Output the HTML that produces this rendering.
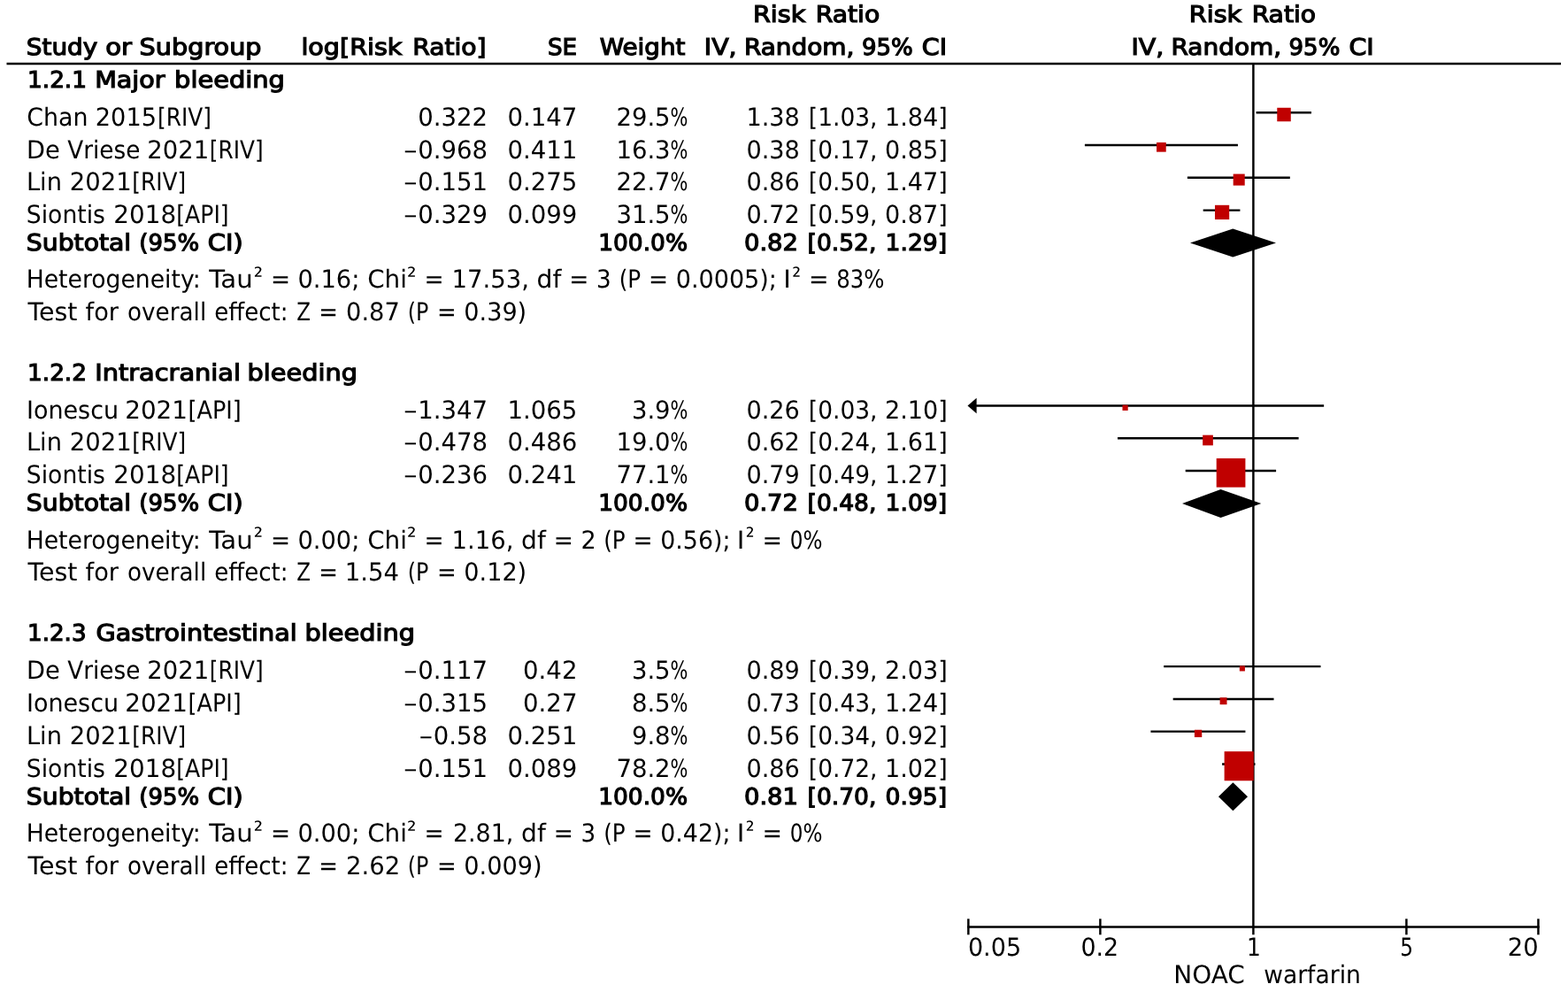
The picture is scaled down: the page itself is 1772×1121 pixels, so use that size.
<!DOCTYPE html>
<html lang="en"><head><meta charset="utf-8"><title>Forest plot</title>
<style>html,body{margin:0;padding:0;background:#fff;overflow:hidden}svg{display:block}text{font-family:"DejaVu Sans","Liberation Sans",sans-serif;font-size:28.0px;fill:#000;white-space:pre;text-rendering:geometricPrecision}.b{font-size:25.85px;stroke:#000;stroke-width:1.2}.ln line{stroke:#000;stroke-width:2.45}.sq rect{fill:#c00000}</style></head><body>
<svg width="1772" height="1121" viewBox="0 0 1772 1121">
<rect width="1772" height="1121" fill="#fff"/>
<g class="ln">
<line x1="1419.58" y1="127.20" x2="1481.95" y2="127.20"/>
<line x1="1225.91" y1="164.00" x2="1398.93" y2="164.00"/>
<line x1="1341.89" y1="200.80" x2="1457.82" y2="200.80"/>
<line x1="1359.68" y1="237.60" x2="1401.43" y2="237.60"/>
<line x1="1100.00" y1="458.50" x2="1496.16" y2="458.50"/>
<line x1="1262.98" y1="495.20" x2="1467.60" y2="495.20"/>
<line x1="1339.71" y1="532.00" x2="1442.09" y2="532.00"/>
<line x1="1315.18" y1="753.10" x2="1492.51" y2="753.10"/>
<line x1="1325.67" y1="789.90" x2="1439.52" y2="789.90"/>
<line x1="1300.43" y1="826.60" x2="1407.44" y2="826.60"/>
<line x1="1381.09" y1="863.40" x2="1418.53" y2="863.40"/>
<line x1="7.5" y1="72" x2="1764" y2="72"/>
<line x1="1416.4" y1="72" x2="1416.4" y2="1056.3"/>
<line x1="1093.13" y1="1047.5" x2="1739.67" y2="1047.5"/>
<line x1="1094.36" y1="1038.3" x2="1094.36" y2="1056.3"/>
<line x1="1243.39" y1="1038.3" x2="1243.39" y2="1056.3"/>
<line x1="1589.41" y1="1038.3" x2="1589.41" y2="1056.3"/>
<line x1="1738.44" y1="1038.3" x2="1738.44" y2="1056.3"/>
</g>
<g class="sq">
<rect x="1443.28" y="121.76" width="15.48" height="15.48"/>
<rect x="1307.03" y="160.95" width="10.70" height="10.70"/>
<rect x="1393.68" y="196.59" width="13.02" height="13.02"/>
<rect x="1372.98" y="231.80" width="16.20" height="16.20"/>
<rect x="1268.48" y="457.69" width="6.21" height="6.21"/>
<rect x="1359.17" y="491.66" width="11.68" height="11.68"/>
<rect x="1374.70" y="517.94" width="32.71" height="32.71"/>
<rect x="1400.84" y="752.37" width="6.07" height="6.07"/>
<rect x="1378.63" y="788.26" width="7.88" height="7.88"/>
<rect x="1349.90" y="824.73" width="8.35" height="8.35"/>
<rect x="1383.63" y="849.15" width="33.11" height="33.11"/>
</g>
<g fill="#000">
<polygon points="1345.00,274.60 1393.30,258.60 1442.00,274.60 1393.30,290.60"/>
<polygon points="1093.5,458.50 1103.6,449.80 1103.6,467.20"/>
<polygon points="1336.00,569.10 1379.50,553.10 1425.30,569.10 1379.50,585.10"/>
<polygon points="1377.00,900.30 1393.40,884.30 1410.00,900.30 1393.40,916.30"/>
</g>
<text class="b"><tspan x="850.92" y="25" textLength="59.31" lengthAdjust="spacingAndGlyphs">Risk</tspan> <tspan x="921.75" y="25" textLength="72.44" lengthAdjust="spacingAndGlyphs">Ratio</tspan></text>
<text class="b"><tspan x="1343.82" y="25" textLength="59.31" lengthAdjust="spacingAndGlyphs">Risk</tspan> <tspan x="1414.65" y="25" textLength="72.44" lengthAdjust="spacingAndGlyphs">Ratio</tspan></text>
<text class="b"><tspan x="29.86" y="62" textLength="80.35" lengthAdjust="spacingAndGlyphs">Study</tspan> <tspan x="119.23" y="62" textLength="29.85" lengthAdjust="spacingAndGlyphs">or</tspan> <tspan x="157.56" y="62" textLength="138.02" lengthAdjust="spacingAndGlyphs">Subgroup</tspan></text>
<text class="b"><tspan x="340.42" y="62" textLength="114.01" lengthAdjust="spacingAndGlyphs">log[Risk</tspan> <tspan x="466.21" y="62" textLength="83.38" lengthAdjust="spacingAndGlyphs">Ratio]</tspan></text>
<text class="b"><tspan x="618.97" y="62" textLength="33.09" lengthAdjust="spacingAndGlyphs">SE</tspan></text>
<text class="b"><tspan x="677.73" y="62" textLength="96.64" lengthAdjust="spacingAndGlyphs">Weight</tspan></text>
<text class="b"><tspan x="795.84" y="62" textLength="36.83" lengthAdjust="spacingAndGlyphs">IV,</tspan> <tspan x="840.98" y="62" textLength="124.45" lengthAdjust="spacingAndGlyphs">Random,</tspan> <tspan x="973.98" y="62" textLength="57.77" lengthAdjust="spacingAndGlyphs">95%</tspan> <tspan x="1041.87" y="62" textLength="28.24" lengthAdjust="spacingAndGlyphs">CI</tspan></text>
<text class="b"><tspan x="1278.44" y="62" textLength="36.83" lengthAdjust="spacingAndGlyphs">IV,</tspan> <tspan x="1323.58" y="62" textLength="124.45" lengthAdjust="spacingAndGlyphs">Random,</tspan> <tspan x="1456.58" y="62" textLength="57.77" lengthAdjust="spacingAndGlyphs">95%</tspan> <tspan x="1524.47" y="62" textLength="28.24" lengthAdjust="spacingAndGlyphs">CI</tspan></text>
<text class="b"><tspan x="31.02" y="99" textLength="66.98" lengthAdjust="spacingAndGlyphs">1.2.1</tspan> <tspan x="107.17" y="99" textLength="79.42" lengthAdjust="spacingAndGlyphs">Major</tspan> <tspan x="197.09" y="99" textLength="124.84" lengthAdjust="spacingAndGlyphs">bleeding</tspan></text>
<text><tspan x="30.24" y="142" textLength="69.17" lengthAdjust="spacingAndGlyphs">Chan</tspan> <tspan x="107.80" y="142" textLength="69.20" lengthAdjust="spacingAndGlyphs">2015</tspan><tspan x="178.06" y="142" textLength="60.86" lengthAdjust="spacingAndGlyphs">[RIV]</tspan></text>
<text><tspan x="472.18" y="142" textLength="78.82" lengthAdjust="spacingAndGlyphs">0.322</tspan></text>
<text><tspan x="573.48" y="142" textLength="78.96" lengthAdjust="spacingAndGlyphs">0.147</tspan></text>
<text><tspan x="696.38" y="142" textLength="61.25" lengthAdjust="spacingAndGlyphs">29.5</tspan><tspan x="757.62" y="142" textLength="19.90" lengthAdjust="spacingAndGlyphs">%</tspan></text>
<text><tspan x="843.51" y="142" textLength="60.37" lengthAdjust="spacingAndGlyphs">1.38</tspan> <tspan x="913.83" y="142" textLength="77.68" lengthAdjust="spacingAndGlyphs">[1.03,</tspan> <tspan x="1000.01" y="142" textLength="70.79" lengthAdjust="spacingAndGlyphs">1.84]</tspan></text>
<text><tspan x="29.95" y="179" textLength="37.74" lengthAdjust="spacingAndGlyphs">De</tspan> <tspan x="76.25" y="179" textLength="82.14" lengthAdjust="spacingAndGlyphs">Vriese</tspan> <tspan x="166.28" y="179" textLength="69.92" lengthAdjust="spacingAndGlyphs">2021</tspan><tspan x="236.81" y="179" textLength="60.86" lengthAdjust="spacingAndGlyphs">[RIV]</tspan></text>
<text><tspan x="456.37" y="179" textLength="15.26" lengthAdjust="spacingAndGlyphs">–</tspan><tspan x="472.18" y="179" textLength="78.82" lengthAdjust="spacingAndGlyphs">0.968</tspan></text>
<text><tspan x="573.48" y="179" textLength="78.96" lengthAdjust="spacingAndGlyphs">0.411</tspan></text>
<text><tspan x="696.38" y="179" textLength="61.25" lengthAdjust="spacingAndGlyphs">16.3</tspan><tspan x="757.62" y="179" textLength="19.90" lengthAdjust="spacingAndGlyphs">%</tspan></text>
<text><tspan x="843.51" y="179" textLength="60.37" lengthAdjust="spacingAndGlyphs">0.38</tspan> <tspan x="913.83" y="179" textLength="77.68" lengthAdjust="spacingAndGlyphs">[0.17,</tspan> <tspan x="1000.01" y="179" textLength="70.79" lengthAdjust="spacingAndGlyphs">0.85]</tspan></text>
<text><tspan x="29.95" y="215" textLength="39.99" lengthAdjust="spacingAndGlyphs">Lin</tspan> <tspan x="78.78" y="215" textLength="69.92" lengthAdjust="spacingAndGlyphs">2021</tspan><tspan x="149.31" y="215" textLength="60.86" lengthAdjust="spacingAndGlyphs">[RIV]</tspan></text>
<text><tspan x="456.37" y="215" textLength="15.26" lengthAdjust="spacingAndGlyphs">–</tspan><tspan x="472.18" y="215" textLength="78.82" lengthAdjust="spacingAndGlyphs">0.151</tspan></text>
<text><tspan x="573.48" y="215" textLength="78.96" lengthAdjust="spacingAndGlyphs">0.275</tspan></text>
<text><tspan x="696.38" y="215" textLength="61.25" lengthAdjust="spacingAndGlyphs">22.7</tspan><tspan x="757.62" y="215" textLength="19.90" lengthAdjust="spacingAndGlyphs">%</tspan></text>
<text><tspan x="843.51" y="215" textLength="60.37" lengthAdjust="spacingAndGlyphs">0.86</tspan> <tspan x="913.83" y="215" textLength="77.68" lengthAdjust="spacingAndGlyphs">[0.50,</tspan> <tspan x="1000.01" y="215" textLength="70.79" lengthAdjust="spacingAndGlyphs">1.47]</tspan></text>
<text><tspan x="29.84" y="252" textLength="89.14" lengthAdjust="spacingAndGlyphs">Siontis</tspan> <tspan x="128.26" y="252" textLength="70.86" lengthAdjust="spacingAndGlyphs">2018</tspan><tspan x="199.28" y="252" textLength="59.42" lengthAdjust="spacingAndGlyphs">[API]</tspan></text>
<text><tspan x="456.37" y="252" textLength="15.26" lengthAdjust="spacingAndGlyphs">–</tspan><tspan x="472.18" y="252" textLength="78.82" lengthAdjust="spacingAndGlyphs">0.329</tspan></text>
<text><tspan x="573.48" y="252" textLength="78.96" lengthAdjust="spacingAndGlyphs">0.099</tspan></text>
<text><tspan x="696.38" y="252" textLength="61.25" lengthAdjust="spacingAndGlyphs">31.5</tspan><tspan x="757.62" y="252" textLength="19.90" lengthAdjust="spacingAndGlyphs">%</tspan></text>
<text><tspan x="843.51" y="252" textLength="60.37" lengthAdjust="spacingAndGlyphs">0.72</tspan> <tspan x="913.83" y="252" textLength="77.68" lengthAdjust="spacingAndGlyphs">[0.59,</tspan> <tspan x="1000.01" y="252" textLength="70.79" lengthAdjust="spacingAndGlyphs">0.87]</tspan></text>
<text class="b"><tspan x="29.83" y="283" textLength="118.37" lengthAdjust="spacingAndGlyphs">Subtotal</tspan> <tspan x="157.33" y="283" textLength="67.71" lengthAdjust="spacingAndGlyphs">(95%</tspan> <tspan x="234.75" y="283" textLength="39.89" lengthAdjust="spacingAndGlyphs">CI)</tspan></text>
<text class="b"><tspan x="676.21" y="283" textLength="100.86" lengthAdjust="spacingAndGlyphs">100.0%</tspan></text>
<text class="b"><tspan x="840.99" y="283" textLength="60.96" lengthAdjust="spacingAndGlyphs">0.82</tspan> <tspan x="912.63" y="283" textLength="77.78" lengthAdjust="spacingAndGlyphs">[0.52,</tspan> <tspan x="1000.49" y="283" textLength="69.68" lengthAdjust="spacingAndGlyphs">1.29]</tspan></text>
<text><tspan x="29.70" y="325" textLength="197.03" lengthAdjust="spacingAndGlyphs">Heterogeneity:</tspan> <tspan x="236.26" y="325" textLength="49.49" lengthAdjust="spacingAndGlyphs">Tau</tspan><tspan x="286.69" y="322" textLength="10.39" lengthAdjust="spacingAndGlyphs">²</tspan> <tspan x="306.03" y="325" textLength="22.10" lengthAdjust="spacingAndGlyphs">=</tspan> <tspan x="336.39" y="325" textLength="70.01" lengthAdjust="spacingAndGlyphs">0.16;</tspan> <tspan x="415.20" y="325" textLength="44.71" lengthAdjust="spacingAndGlyphs">Chi</tspan><tspan x="459.98" y="322" textLength="10.52" lengthAdjust="spacingAndGlyphs">²</tspan> <tspan x="479.53" y="325" textLength="22.10" lengthAdjust="spacingAndGlyphs">=</tspan> <tspan x="510.60" y="325" textLength="87.29" lengthAdjust="spacingAndGlyphs">17.53,</tspan> <tspan x="606.58" y="325" textLength="27.77" lengthAdjust="spacingAndGlyphs">df</tspan> <tspan x="643.23" y="325" textLength="22.10" lengthAdjust="spacingAndGlyphs">=</tspan> <tspan x="673.96" y="325" textLength="16.67" lengthAdjust="spacingAndGlyphs">3</tspan> <tspan x="699.67" y="325" textLength="24.55" lengthAdjust="spacingAndGlyphs">(P</tspan> <tspan x="732.93" y="325" textLength="22.10" lengthAdjust="spacingAndGlyphs">=</tspan> <tspan x="763.71" y="325" textLength="114.26" lengthAdjust="spacingAndGlyphs">0.0005);</tspan> <tspan x="885.36" y="325" textLength="8.63" lengthAdjust="spacingAndGlyphs">I</tspan><tspan x="895.23" y="322" textLength="9.88" lengthAdjust="spacingAndGlyphs">²</tspan> <tspan x="913.88" y="325" textLength="22.50" lengthAdjust="spacingAndGlyphs">=</tspan> <tspan x="945.27" y="325" textLength="54.30" lengthAdjust="spacingAndGlyphs">83%</tspan></text>
<text><tspan x="31.44" y="362" textLength="55.94" lengthAdjust="spacingAndGlyphs">Test</tspan> <tspan x="96.57" y="362" textLength="37.43" lengthAdjust="spacingAndGlyphs">for</tspan> <tspan x="144.07" y="362" textLength="89.10" lengthAdjust="spacingAndGlyphs">overall</tspan> <tspan x="242.28" y="362" textLength="83.29" lengthAdjust="spacingAndGlyphs">effect:</tspan> <tspan x="335.18" y="362" textLength="15.74" lengthAdjust="spacingAndGlyphs">Z</tspan> <tspan x="360.17" y="362" textLength="21.71" lengthAdjust="spacingAndGlyphs">=</tspan> <tspan x="391.10" y="362" textLength="60.71" lengthAdjust="spacingAndGlyphs">0.87</tspan> <tspan x="460.64" y="362" textLength="23.65" lengthAdjust="spacingAndGlyphs">(P</tspan> <tspan x="493.97" y="362" textLength="21.71" lengthAdjust="spacingAndGlyphs">=</tspan> <tspan x="524.31" y="362" textLength="70.90" lengthAdjust="spacingAndGlyphs">0.39)</tspan></text>
<text class="b"><tspan x="31.02" y="430" textLength="66.98" lengthAdjust="spacingAndGlyphs">1.2.2</tspan> <tspan x="107.15" y="430" textLength="164.85" lengthAdjust="spacingAndGlyphs">Intracranial</tspan> <tspan x="279.60" y="430" textLength="124.32" lengthAdjust="spacingAndGlyphs">bleeding</tspan></text>
<text><tspan x="29.97" y="473" textLength="104.12" lengthAdjust="spacingAndGlyphs">Ionescu</tspan> <tspan x="141.26" y="473" textLength="70.72" lengthAdjust="spacingAndGlyphs">2021</tspan><tspan x="212.51" y="473" textLength="60.22" lengthAdjust="spacingAndGlyphs">[API]</tspan></text>
<text><tspan x="456.37" y="473" textLength="15.26" lengthAdjust="spacingAndGlyphs">–</tspan><tspan x="472.18" y="473" textLength="78.82" lengthAdjust="spacingAndGlyphs">1.347</tspan></text>
<text><tspan x="573.48" y="473" textLength="78.96" lengthAdjust="spacingAndGlyphs">1.065</tspan></text>
<text><tspan x="713.88" y="473" textLength="43.75" lengthAdjust="spacingAndGlyphs">3.9</tspan><tspan x="757.62" y="473" textLength="19.90" lengthAdjust="spacingAndGlyphs">%</tspan></text>
<text><tspan x="843.51" y="473" textLength="60.37" lengthAdjust="spacingAndGlyphs">0.26</tspan> <tspan x="913.83" y="473" textLength="77.68" lengthAdjust="spacingAndGlyphs">[0.03,</tspan> <tspan x="1000.01" y="473" textLength="70.79" lengthAdjust="spacingAndGlyphs">2.10]</tspan></text>
<text><tspan x="29.95" y="509" textLength="39.99" lengthAdjust="spacingAndGlyphs">Lin</tspan> <tspan x="78.78" y="509" textLength="69.92" lengthAdjust="spacingAndGlyphs">2021</tspan><tspan x="149.31" y="509" textLength="60.86" lengthAdjust="spacingAndGlyphs">[RIV]</tspan></text>
<text><tspan x="456.37" y="509" textLength="15.26" lengthAdjust="spacingAndGlyphs">–</tspan><tspan x="472.18" y="509" textLength="78.82" lengthAdjust="spacingAndGlyphs">0.478</tspan></text>
<text><tspan x="573.48" y="509" textLength="78.96" lengthAdjust="spacingAndGlyphs">0.486</tspan></text>
<text><tspan x="696.38" y="509" textLength="61.25" lengthAdjust="spacingAndGlyphs">19.0</tspan><tspan x="757.62" y="509" textLength="19.90" lengthAdjust="spacingAndGlyphs">%</tspan></text>
<text><tspan x="843.51" y="509" textLength="60.37" lengthAdjust="spacingAndGlyphs">0.62</tspan> <tspan x="913.83" y="509" textLength="77.68" lengthAdjust="spacingAndGlyphs">[0.24,</tspan> <tspan x="1000.01" y="509" textLength="70.79" lengthAdjust="spacingAndGlyphs">1.61]</tspan></text>
<text><tspan x="29.84" y="546" textLength="89.14" lengthAdjust="spacingAndGlyphs">Siontis</tspan> <tspan x="128.26" y="546" textLength="70.86" lengthAdjust="spacingAndGlyphs">2018</tspan><tspan x="199.28" y="546" textLength="59.42" lengthAdjust="spacingAndGlyphs">[API]</tspan></text>
<text><tspan x="456.37" y="546" textLength="15.26" lengthAdjust="spacingAndGlyphs">–</tspan><tspan x="472.18" y="546" textLength="78.82" lengthAdjust="spacingAndGlyphs">0.236</tspan></text>
<text><tspan x="573.48" y="546" textLength="78.96" lengthAdjust="spacingAndGlyphs">0.241</tspan></text>
<text><tspan x="696.38" y="546" textLength="61.25" lengthAdjust="spacingAndGlyphs">77.1</tspan><tspan x="757.62" y="546" textLength="19.90" lengthAdjust="spacingAndGlyphs">%</tspan></text>
<text><tspan x="843.51" y="546" textLength="60.37" lengthAdjust="spacingAndGlyphs">0.79</tspan> <tspan x="913.83" y="546" textLength="77.68" lengthAdjust="spacingAndGlyphs">[0.49,</tspan> <tspan x="1000.01" y="546" textLength="70.79" lengthAdjust="spacingAndGlyphs">1.27]</tspan></text>
<text class="b"><tspan x="29.83" y="577" textLength="118.37" lengthAdjust="spacingAndGlyphs">Subtotal</tspan> <tspan x="157.33" y="577" textLength="67.71" lengthAdjust="spacingAndGlyphs">(95%</tspan> <tspan x="234.75" y="577" textLength="39.89" lengthAdjust="spacingAndGlyphs">CI)</tspan></text>
<text class="b"><tspan x="676.21" y="577" textLength="100.86" lengthAdjust="spacingAndGlyphs">100.0%</tspan></text>
<text class="b"><tspan x="840.99" y="577" textLength="60.96" lengthAdjust="spacingAndGlyphs">0.72</tspan> <tspan x="912.63" y="577" textLength="77.78" lengthAdjust="spacingAndGlyphs">[0.48,</tspan> <tspan x="1000.49" y="577" textLength="69.68" lengthAdjust="spacingAndGlyphs">1.09]</tspan></text>
<text><tspan x="29.70" y="620" textLength="197.03" lengthAdjust="spacingAndGlyphs">Heterogeneity:</tspan> <tspan x="236.26" y="620" textLength="49.49" lengthAdjust="spacingAndGlyphs">Tau</tspan><tspan x="286.69" y="616" textLength="10.39" lengthAdjust="spacingAndGlyphs">²</tspan> <tspan x="306.03" y="620" textLength="22.10" lengthAdjust="spacingAndGlyphs">=</tspan> <tspan x="336.39" y="620" textLength="70.01" lengthAdjust="spacingAndGlyphs">0.00;</tspan> <tspan x="415.20" y="620" textLength="44.71" lengthAdjust="spacingAndGlyphs">Chi</tspan><tspan x="459.98" y="616" textLength="10.52" lengthAdjust="spacingAndGlyphs">²</tspan> <tspan x="479.53" y="620" textLength="22.10" lengthAdjust="spacingAndGlyphs">=</tspan> <tspan x="510.60" y="620" textLength="69.79" lengthAdjust="spacingAndGlyphs">1.16,</tspan> <tspan x="589.08" y="620" textLength="27.77" lengthAdjust="spacingAndGlyphs">df</tspan> <tspan x="625.73" y="620" textLength="22.10" lengthAdjust="spacingAndGlyphs">=</tspan> <tspan x="656.41" y="620" textLength="17.21" lengthAdjust="spacingAndGlyphs">2</tspan> <tspan x="682.17" y="620" textLength="24.55" lengthAdjust="spacingAndGlyphs">(P</tspan> <tspan x="715.43" y="620" textLength="22.10" lengthAdjust="spacingAndGlyphs">=</tspan> <tspan x="746.22" y="620" textLength="79.23" lengthAdjust="spacingAndGlyphs">0.56);</tspan> <tspan x="832.86" y="620" textLength="8.63" lengthAdjust="spacingAndGlyphs">I</tspan><tspan x="842.73" y="616" textLength="9.88" lengthAdjust="spacingAndGlyphs">²</tspan> <tspan x="861.38" y="620" textLength="22.50" lengthAdjust="spacingAndGlyphs">=</tspan> <tspan x="892.86" y="620" textLength="36.66" lengthAdjust="spacingAndGlyphs">0%</tspan></text>
<text><tspan x="31.44" y="656" textLength="55.94" lengthAdjust="spacingAndGlyphs">Test</tspan> <tspan x="96.57" y="656" textLength="37.43" lengthAdjust="spacingAndGlyphs">for</tspan> <tspan x="144.07" y="656" textLength="89.10" lengthAdjust="spacingAndGlyphs">overall</tspan> <tspan x="242.28" y="656" textLength="83.29" lengthAdjust="spacingAndGlyphs">effect:</tspan> <tspan x="335.18" y="656" textLength="15.74" lengthAdjust="spacingAndGlyphs">Z</tspan> <tspan x="360.17" y="656" textLength="21.71" lengthAdjust="spacingAndGlyphs">=</tspan> <tspan x="389.80" y="656" textLength="61.17" lengthAdjust="spacingAndGlyphs">1.54</tspan> <tspan x="460.64" y="656" textLength="23.65" lengthAdjust="spacingAndGlyphs">(P</tspan> <tspan x="493.97" y="656" textLength="21.71" lengthAdjust="spacingAndGlyphs">=</tspan> <tspan x="524.31" y="656" textLength="70.90" lengthAdjust="spacingAndGlyphs">0.12)</tspan></text>
<text class="b"><tspan x="31.04" y="724" textLength="66.54" lengthAdjust="spacingAndGlyphs">1.2.3</tspan> <tspan x="108.51" y="724" textLength="227.23" lengthAdjust="spacingAndGlyphs">Gastrointestinal</tspan> <tspan x="344.60" y="724" textLength="124.32" lengthAdjust="spacingAndGlyphs">bleeding</tspan></text>
<text><tspan x="29.95" y="767" textLength="37.74" lengthAdjust="spacingAndGlyphs">De</tspan> <tspan x="76.25" y="767" textLength="82.14" lengthAdjust="spacingAndGlyphs">Vriese</tspan> <tspan x="166.28" y="767" textLength="69.92" lengthAdjust="spacingAndGlyphs">2021</tspan><tspan x="236.81" y="767" textLength="60.86" lengthAdjust="spacingAndGlyphs">[RIV]</tspan></text>
<text><tspan x="456.37" y="767" textLength="15.26" lengthAdjust="spacingAndGlyphs">–</tspan><tspan x="472.18" y="767" textLength="78.82" lengthAdjust="spacingAndGlyphs">0.117</tspan></text>
<text><tspan x="591.02" y="767" textLength="61.41" lengthAdjust="spacingAndGlyphs">0.42</tspan></text>
<text><tspan x="713.88" y="767" textLength="43.75" lengthAdjust="spacingAndGlyphs">3.5</tspan><tspan x="757.62" y="767" textLength="19.90" lengthAdjust="spacingAndGlyphs">%</tspan></text>
<text><tspan x="843.51" y="767" textLength="60.37" lengthAdjust="spacingAndGlyphs">0.89</tspan> <tspan x="913.83" y="767" textLength="77.68" lengthAdjust="spacingAndGlyphs">[0.39,</tspan> <tspan x="1000.01" y="767" textLength="70.79" lengthAdjust="spacingAndGlyphs">2.03]</tspan></text>
<text><tspan x="29.97" y="804" textLength="104.12" lengthAdjust="spacingAndGlyphs">Ionescu</tspan> <tspan x="141.26" y="804" textLength="70.72" lengthAdjust="spacingAndGlyphs">2021</tspan><tspan x="212.51" y="804" textLength="60.22" lengthAdjust="spacingAndGlyphs">[API]</tspan></text>
<text><tspan x="456.37" y="804" textLength="15.26" lengthAdjust="spacingAndGlyphs">–</tspan><tspan x="472.18" y="804" textLength="78.82" lengthAdjust="spacingAndGlyphs">0.315</tspan></text>
<text><tspan x="591.02" y="804" textLength="61.41" lengthAdjust="spacingAndGlyphs">0.27</tspan></text>
<text><tspan x="713.88" y="804" textLength="43.75" lengthAdjust="spacingAndGlyphs">8.5</tspan><tspan x="757.62" y="804" textLength="19.90" lengthAdjust="spacingAndGlyphs">%</tspan></text>
<text><tspan x="843.51" y="804" textLength="60.37" lengthAdjust="spacingAndGlyphs">0.73</tspan> <tspan x="913.83" y="804" textLength="77.68" lengthAdjust="spacingAndGlyphs">[0.43,</tspan> <tspan x="1000.01" y="804" textLength="70.79" lengthAdjust="spacingAndGlyphs">1.24]</tspan></text>
<text><tspan x="29.95" y="841" textLength="39.99" lengthAdjust="spacingAndGlyphs">Lin</tspan> <tspan x="78.78" y="841" textLength="69.92" lengthAdjust="spacingAndGlyphs">2021</tspan><tspan x="149.31" y="841" textLength="60.86" lengthAdjust="spacingAndGlyphs">[RIV]</tspan></text>
<text><tspan x="473.87" y="841" textLength="15.26" lengthAdjust="spacingAndGlyphs">–</tspan><tspan x="489.70" y="841" textLength="61.30" lengthAdjust="spacingAndGlyphs">0.58</tspan></text>
<text><tspan x="573.48" y="841" textLength="78.96" lengthAdjust="spacingAndGlyphs">0.251</tspan></text>
<text><tspan x="713.88" y="841" textLength="43.75" lengthAdjust="spacingAndGlyphs">9.8</tspan><tspan x="757.62" y="841" textLength="19.90" lengthAdjust="spacingAndGlyphs">%</tspan></text>
<text><tspan x="843.51" y="841" textLength="60.37" lengthAdjust="spacingAndGlyphs">0.56</tspan> <tspan x="913.83" y="841" textLength="77.68" lengthAdjust="spacingAndGlyphs">[0.34,</tspan> <tspan x="1000.01" y="841" textLength="70.79" lengthAdjust="spacingAndGlyphs">0.92]</tspan></text>
<text><tspan x="29.84" y="878" textLength="89.14" lengthAdjust="spacingAndGlyphs">Siontis</tspan> <tspan x="128.26" y="878" textLength="70.86" lengthAdjust="spacingAndGlyphs">2018</tspan><tspan x="199.28" y="878" textLength="59.42" lengthAdjust="spacingAndGlyphs">[API]</tspan></text>
<text><tspan x="456.37" y="878" textLength="15.26" lengthAdjust="spacingAndGlyphs">–</tspan><tspan x="472.18" y="878" textLength="78.82" lengthAdjust="spacingAndGlyphs">0.151</tspan></text>
<text><tspan x="573.48" y="878" textLength="78.96" lengthAdjust="spacingAndGlyphs">0.089</tspan></text>
<text><tspan x="696.38" y="878" textLength="61.25" lengthAdjust="spacingAndGlyphs">78.2</tspan><tspan x="757.62" y="878" textLength="19.90" lengthAdjust="spacingAndGlyphs">%</tspan></text>
<text><tspan x="843.51" y="878" textLength="60.37" lengthAdjust="spacingAndGlyphs">0.86</tspan> <tspan x="913.83" y="878" textLength="77.68" lengthAdjust="spacingAndGlyphs">[0.72,</tspan> <tspan x="1000.01" y="878" textLength="70.79" lengthAdjust="spacingAndGlyphs">1.02]</tspan></text>
<text class="b"><tspan x="29.83" y="909" textLength="118.37" lengthAdjust="spacingAndGlyphs">Subtotal</tspan> <tspan x="157.33" y="909" textLength="67.71" lengthAdjust="spacingAndGlyphs">(95%</tspan> <tspan x="234.75" y="909" textLength="39.89" lengthAdjust="spacingAndGlyphs">CI)</tspan></text>
<text class="b"><tspan x="676.21" y="909" textLength="100.86" lengthAdjust="spacingAndGlyphs">100.0%</tspan></text>
<text class="b"><tspan x="840.99" y="909" textLength="60.96" lengthAdjust="spacingAndGlyphs">0.81</tspan> <tspan x="912.63" y="909" textLength="77.78" lengthAdjust="spacingAndGlyphs">[0.70,</tspan> <tspan x="1000.49" y="909" textLength="69.68" lengthAdjust="spacingAndGlyphs">0.95]</tspan></text>
<text><tspan x="29.70" y="951" textLength="197.03" lengthAdjust="spacingAndGlyphs">Heterogeneity:</tspan> <tspan x="236.26" y="951" textLength="49.49" lengthAdjust="spacingAndGlyphs">Tau</tspan><tspan x="286.69" y="948" textLength="10.39" lengthAdjust="spacingAndGlyphs">²</tspan> <tspan x="306.03" y="951" textLength="22.10" lengthAdjust="spacingAndGlyphs">=</tspan> <tspan x="336.39" y="951" textLength="70.01" lengthAdjust="spacingAndGlyphs">0.00;</tspan> <tspan x="415.20" y="951" textLength="44.71" lengthAdjust="spacingAndGlyphs">Chi</tspan><tspan x="459.98" y="948" textLength="10.52" lengthAdjust="spacingAndGlyphs">²</tspan> <tspan x="479.53" y="951" textLength="22.10" lengthAdjust="spacingAndGlyphs">=</tspan> <tspan x="511.92" y="951" textLength="68.43" lengthAdjust="spacingAndGlyphs">2.81,</tspan> <tspan x="589.08" y="951" textLength="27.77" lengthAdjust="spacingAndGlyphs">df</tspan> <tspan x="625.73" y="951" textLength="22.10" lengthAdjust="spacingAndGlyphs">=</tspan> <tspan x="656.46" y="951" textLength="16.67" lengthAdjust="spacingAndGlyphs">3</tspan> <tspan x="682.17" y="951" textLength="24.55" lengthAdjust="spacingAndGlyphs">(P</tspan> <tspan x="715.43" y="951" textLength="22.10" lengthAdjust="spacingAndGlyphs">=</tspan> <tspan x="746.22" y="951" textLength="79.23" lengthAdjust="spacingAndGlyphs">0.42);</tspan> <tspan x="832.86" y="951" textLength="8.63" lengthAdjust="spacingAndGlyphs">I</tspan><tspan x="842.73" y="948" textLength="9.88" lengthAdjust="spacingAndGlyphs">²</tspan> <tspan x="861.38" y="951" textLength="22.50" lengthAdjust="spacingAndGlyphs">=</tspan> <tspan x="892.86" y="951" textLength="36.66" lengthAdjust="spacingAndGlyphs">0%</tspan></text>
<text><tspan x="31.44" y="988" textLength="55.94" lengthAdjust="spacingAndGlyphs">Test</tspan> <tspan x="96.57" y="988" textLength="37.43" lengthAdjust="spacingAndGlyphs">for</tspan> <tspan x="144.07" y="988" textLength="89.10" lengthAdjust="spacingAndGlyphs">overall</tspan> <tspan x="242.28" y="988" textLength="83.29" lengthAdjust="spacingAndGlyphs">effect:</tspan> <tspan x="335.18" y="988" textLength="15.74" lengthAdjust="spacingAndGlyphs">Z</tspan> <tspan x="360.17" y="988" textLength="21.71" lengthAdjust="spacingAndGlyphs">=</tspan> <tspan x="391.08" y="988" textLength="61.17" lengthAdjust="spacingAndGlyphs">2.62</tspan> <tspan x="460.64" y="988" textLength="23.65" lengthAdjust="spacingAndGlyphs">(P</tspan> <tspan x="493.97" y="988" textLength="21.71" lengthAdjust="spacingAndGlyphs">=</tspan> <tspan x="524.30" y="988" textLength="88.41" lengthAdjust="spacingAndGlyphs">0.009)</tspan></text>
<text><tspan x="1093.91" y="1080" textLength="60.18" lengthAdjust="spacingAndGlyphs">0.05</tspan></text>
<text><tspan x="1221.52" y="1080" textLength="42.67" lengthAdjust="spacingAndGlyphs">0.2</tspan></text>
<text><tspan x="1408.88" y="1080" textLength="15.85" lengthAdjust="spacingAndGlyphs">1</tspan></text>
<text><tspan x="1582.25" y="1080" textLength="14.76" lengthAdjust="spacingAndGlyphs">5</tspan></text>
<text><tspan x="1703.79" y="1080" textLength="34.80" lengthAdjust="spacingAndGlyphs">20</tspan></text>
<text><tspan x="1326.28" y="1111" textLength="80.60" lengthAdjust="spacingAndGlyphs">NOAC</tspan></text>
<text><tspan x="1428.17" y="1111" textLength="109.72" lengthAdjust="spacingAndGlyphs">warfarin</tspan></text>
</svg></body></html>
